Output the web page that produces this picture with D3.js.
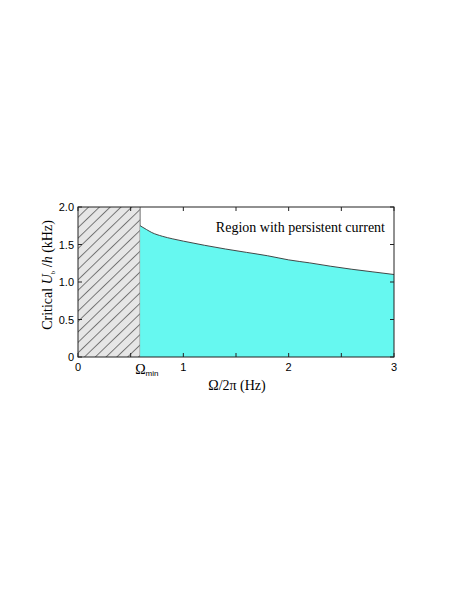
<!DOCTYPE html>
<html>
<head>
<meta charset="utf-8">
<script src="https://cdn.jsdelivr.net/npm/d3@7"></script>
<style>
  body { margin: 0; background: #fff; }
  text { fill: #000; }
  .tick-label { font-family: 'Liberation Sans', Arial, sans-serif; font-size: 11px; }
  .serif { font-family: 'Liberation Serif', 'Times New Roman', serif; }
</style>
</head>
<body>
<div id="chart"></div>
<script>
// critical barrier height vs rotation frequency
const freqs = [0.59, 0.65, 0.7, 0.8, 0.9, 1.0, 1.2, 1.4, 1.6, 1.8, 2.0, 2.2, 2.4, 2.6, 2.8, 3.0];
const critical = [1.75, 1.70, 1.66, 1.61, 1.575, 1.545, 1.49, 1.44, 1.395, 1.35, 1.295, 1.255, 1.21, 1.17, 1.135, 1.10];
const omegaMin = 0.59;
const xTicks = [0, 1, 2, 3];
const xMinor = [0, 0.5, 1, 1.5, 2, 2.5, 3];
const yTicks = [0, 0.5, 1.0, 1.5, 2.0];

const width = 471, height = 609;
const mLeft = 78, mRight = 394, mTop = 207, mBottom = 357;

const x = d3.scaleLinear().domain([0, 3]).range([mLeft, mRight]);
const y = d3.scaleLinear().domain([0, 2]).range([mBottom, mTop]);

const svg = d3.select('#chart').append('svg')
  .attr('width', width)
  .attr('height', height);

const defs = svg.append('defs');
const pat = defs.append('pattern')
  .attr('id', 'hatch')
  .attr('patternUnits', 'userSpaceOnUse')
  .attr('width', 10)
  .attr('height', 7.5)
  .attr('patternTransform', 'rotate(-44)');
pat.append('rect').attr('width', 10).attr('height', 7.5).attr('fill', '#e6e6e6');
pat.append('line')
  .attr('x1', 0).attr('y1', 0.5).attr('x2', 10).attr('y2', 0.5)
  .attr('stroke', '#555').attr('stroke-width', 0.8);

// forbidden region below omega_min
svg.append('rect')
  .attr('x', x(0))
  .attr('y', y(2))
  .attr('width', x(omegaMin) - x(0))
  .attr('height', y(0) - y(2))
  .attr('fill', 'url(#hatch)');
svg.append('line')
  .attr('x1', x(omegaMin)).attr('x2', x(omegaMin))
  .attr('y1', y(0)).attr('y2', y(2))
  .attr('stroke', '#888').attr('stroke-width', 1.2);

const pts = freqs.map((f, i) => [f, critical[i]]);

svg.append('path')
  .datum(pts)
  .attr('fill', '#66f8f0')
  .attr('d', d3.area().curve(d3.curveMonotoneX)
    .x((d) => x(d[0]))
    .y0(y(0))
    .y1((d) => y(d[1])));

svg.append('path')
  .datum(pts)
  .attr('fill', 'none')
  .attr('stroke', '#333')
  .attr('stroke-width', 0.9)
  .attr('d', d3.line().curve(d3.curveMonotoneX)
    .x((d) => x(d[0]))
    .y((d) => y(d[1])));

// frame
svg.append('rect')
  .attr('x', mLeft).attr('y', mTop)
  .attr('width', mRight - mLeft).attr('height', mBottom - mTop)
  .attr('fill', 'none').attr('stroke', '#222').attr('stroke-width', 1);

// inward ticks on all sides
const tl = 4;
xMinor.forEach((t) => {
  svg.append('line').attr('x1', x(t)).attr('x2', x(t)).attr('y1', mBottom).attr('y2', mBottom - tl).attr('stroke', '#222');
  svg.append('line').attr('x1', x(t)).attr('x2', x(t)).attr('y1', mTop).attr('y2', mTop + tl).attr('stroke', '#222');
});
yTicks.forEach((t) => {
  svg.append('line').attr('x1', mLeft).attr('x2', mLeft + tl).attr('y1', y(t)).attr('y2', y(t)).attr('stroke', '#222');
  svg.append('line').attr('x1', mRight).attr('x2', mRight - tl).attr('y1', y(t)).attr('y2', y(t)).attr('stroke', '#222');
});

svg.selectAll('.xl')
  .data(xTicks)
  .enter()
  .append('text')
  .attr('class', 'tick-label')
  .attr('x', (d) => x(d))
  .attr('y', mBottom + 14)
  .attr('text-anchor', 'middle')
  .text((d) => d);

svg.selectAll('.yl')
  .data(yTicks)
  .enter()
  .append('text')
  .attr('class', 'tick-label')
  .attr('x', mLeft - 4)
  .attr('y', (d) => y(d) + 4)
  .attr('text-anchor', 'end')
  .text((d) => (d === 0 ? '0' : d.toFixed(1)));

// omega_min label
const om = svg.append('text')
  .attr('class', 'serif')
  .attr('x', x(omegaMin) - 5)
  .attr('y', mBottom + 17)
  .attr('font-size', 14);
om.append('tspan').text('Ω');
om.append('tspan').attr('font-size', 8).attr('font-family', 'Liberation Sans, Arial, sans-serif').attr('dy', 2).text('min');

svg.append('text')
  .attr('class', 'serif')
  .attr('x', 237)
  .attr('y', 390)
  .attr('text-anchor', 'middle')
  .attr('font-size', 14)
  .text('Ω/2π (Hz)');

const yl = svg.append('text')
  .attr('class', 'serif')
  .attr('transform', 'translate(52, 275) rotate(-90)')
  .attr('text-anchor', 'middle')
  .attr('font-size', 14);
yl.append('tspan').text('Critical  ');
yl.append('tspan').attr('font-style', 'italic').text('U');
yl.append('tspan').attr('font-size', 7).attr('dy', 3).text('b');
yl.append('tspan').attr('dy', -3).text(' /');
yl.append('tspan').attr('font-style', 'italic').text('h');
yl.append('tspan').text(' (kHz)');

svg.append('text')
  .attr('class', 'serif')
  .attr('x', 385)
  .attr('y', 232)
  .attr('text-anchor', 'end')
  .attr('font-size', 14)
  .text('Region with persistent current');
</script>
</body>
</html>
